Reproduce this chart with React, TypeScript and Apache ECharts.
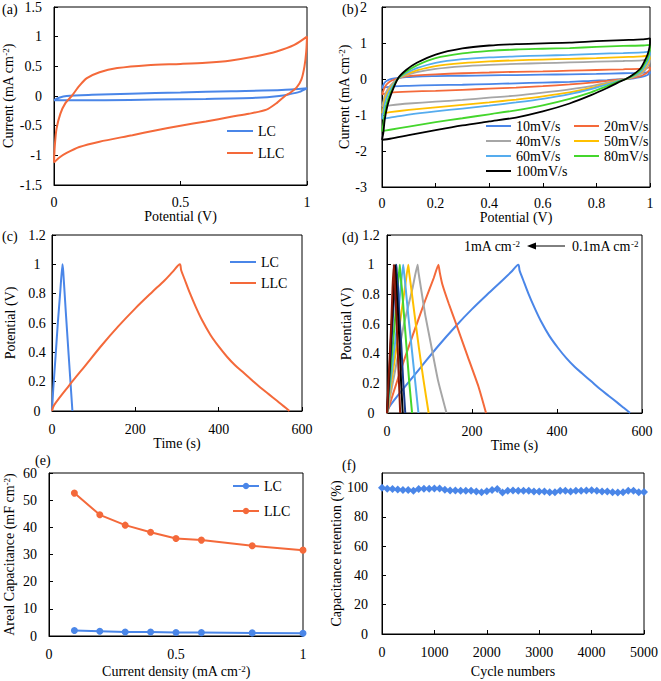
import React, { useEffect, useRef } from 'react';
import * as echarts from 'echarts';

const FONT = 'Liberation Serif';
const BLUE = '#4A86E8';
const ORANGE = '#F4693A';
const GRAY = '#A6A6A6';
const GOLD = '#FFC000';
const LBLUE = '#55ACEE';
const GREEN = '#44D62C';
const NAVY = '#1A3C8C';
const BLACK = '#000000';
const DRED = '#8B1A0A';

// ---------- (a) CV at 100 mV/s ----------
const aLlcUpX = [0, 0.003, 0.01, 0.025, 0.045, 0.07, 0.1, 0.13, 0.18, 0.25, 0.37, 0.5, 0.6, 0.7, 0.8, 0.88, 0.95, 1];
const aLlcUpY = [-1.12, -0.85, -0.55, -0.3, -0.12, 0.0, 0.17, 0.3, 0.4, 0.47, 0.52, 0.54, 0.56, 0.6, 0.67, 0.75, 0.86, 1.0];
const aLlcDownX = [1, 0.997, 0.99, 0.978, 0.96, 0.935, 0.913, 0.88, 0.84, 0.77, 0.7, 0.6, 0.5, 0.4, 0.31, 0.18, 0.1, 0.05, 0.02, 0];
const aLlcDownY = [1.0, 0.75, 0.5, 0.28, 0.15, 0.06, 0.0, -0.12, -0.23, -0.3, -0.35, -0.43, -0.5, -0.58, -0.66, -0.77, -0.86, -0.96, -1.04, -1.12];
const aLcUpX = [0, 0.02, 0.05, 0.15, 0.3, 0.5, 0.7, 0.9, 1];
const aLcUpY = [-0.07, -0.03, 0.0, 0.02, 0.04, 0.06, 0.08, 0.1, 0.13];
const aLcDownX = [1, 0.97, 0.93, 0.89, 0.8, 0.6, 0.4, 0.2, 0.05, 0];
const aLcDownY = [0.13, 0.07, 0.03, 0.0, -0.03, -0.05, -0.06, -0.07, -0.07, -0.07];

// ---------- (b) CV at different scan rates ----------
const bRates = ['10mV/s', '20mV/s', '40mV/s', '50mV/s', '60mV/s', '80mV/s', '100mV/s'];
const bColors = [BLUE, ORANGE, GRAY, GOLD, LBLUE, GREEN, BLACK];
const bUpX = [0, 0.005, 0.01, 0.02, 0.035, 0.06, 0.09, 0.13, 0.2, 0.3, 0.4, 0.5, 0.6, 0.7, 0.8, 0.9, 0.97, 1];
const bLowX = [0, 0.03, 0.1, 0.2, 0.3, 0.4, 0.5, 0.6, 0.7, 0.78, 0.84, 0.88, 0.91, 0.94, 0.965, 0.98, 0.992, 1];
const bUp10 = [-0.25, -0.17, -0.1, -0.04, 0.0, 0.03, 0.05, 0.07, 0.08, 0.09, 0.1, 0.11, 0.12, 0.13, 0.14, 0.16, 0.17, 0.2];
const bLow10 = [-0.25, -0.21, -0.19, -0.17, -0.16, -0.14, -0.12, -0.1, -0.08, -0.05, -0.03, -0.01, 0.0, 0.02, 0.05, 0.08, 0.12, 0.17];
const bUp20 = [-0.43, -0.33, -0.23, -0.13, -0.05, 0.02, 0.07, 0.1, 0.13, 0.16, 0.18, 0.2, 0.21, 0.23, 0.25, 0.27, 0.29, 0.32];
const bLow20 = [-0.43, -0.38, -0.35, -0.33, -0.3, -0.27, -0.24, -0.2, -0.15, -0.1, -0.05, -0.02, 0.0, 0.04, 0.08, 0.13, 0.2, 0.28];
const bUp40 = [-0.76, -0.62, -0.46, -0.3, -0.15, 0.01, 0.1, 0.19, 0.28, 0.35, 0.39, 0.42, 0.44, 0.46, 0.48, 0.5, 0.52, 0.55];
const bLow40 = [-0.76, -0.73, -0.68, -0.63, -0.58, -0.52, -0.46, -0.38, -0.29, -0.2, -0.1, -0.04, 0.0, 0.06, 0.13, 0.23, 0.35, 0.5];
const bUp50 = [-0.95, -0.78, -0.58, -0.38, -0.2, 0.01, 0.13, 0.24, 0.36, 0.44, 0.49, 0.52, 0.54, 0.56, 0.58, 0.61, 0.63, 0.66];
const bLow50 = [-0.95, -0.92, -0.86, -0.79, -0.72, -0.65, -0.57, -0.48, -0.37, -0.25, -0.13, -0.05, 0.0, 0.08, 0.17, 0.3, 0.44, 0.6];
const bUp60 = [-1.1, -0.92, -0.7, -0.46, -0.24, 0.01, 0.16, 0.3, 0.45, 0.55, 0.6, 0.63, 0.65, 0.67, 0.7, 0.72, 0.74, 0.76];
const bLow60 = [-1.1, -1.07, -0.99, -0.9, -0.82, -0.74, -0.65, -0.55, -0.42, -0.28, -0.15, -0.06, 0.0, 0.09, 0.2, 0.34, 0.5, 0.68];
const bUp80 = [-1.45, -1.25, -0.95, -0.62, -0.33, 0.01, 0.2, 0.38, 0.58, 0.71, 0.78, 0.82, 0.84, 0.86, 0.89, 0.92, 0.93, 0.95];
const bLow80 = [-1.45, -1.41, -1.32, -1.2, -1.09, -0.98, -0.87, -0.73, -0.55, -0.37, -0.2, -0.08, 0.0, 0.11, 0.25, 0.42, 0.6, 0.85];
const bUp100 = [-1.69, -1.5, -1.14, -0.75, -0.4, 0.02, 0.25, 0.45, 0.68, 0.85, 0.93, 0.97, 0.99, 1.01, 1.05, 1.08, 1.1, 1.13];
const bLow100 = [-1.69, -1.66, -1.56, -1.42, -1.29, -1.18, -1.07, -0.9, -0.68, -0.45, -0.25, -0.1, 0.0, 0.14, 0.3, 0.5, 0.7, 1.0];
const bUps = [bUp10, bUp20, bUp40, bUp50, bUp60, bUp80, bUp100];
const bLows = [bLow10, bLow20, bLow40, bLow50, bLow60, bLow80, bLow100];

// ---------- (c) GCD at 0.1 mA cm-2 ----------
const cLcT = [0, 3, 8, 14, 20, 25, 27, 33, 40, 49];
const cLcV = [0, 0.15, 0.35, 0.6, 0.82, 1.0, 0.95, 0.68, 0.38, 0];
const cLlcT = [0, 5, 40, 80, 120, 160, 200, 240, 270, 290, 307, 310, 318, 330, 345, 360, 380, 400, 420, 440, 460, 480, 500, 520, 540, 555, 570];
const cLlcV = [0, 0.04, 0.17, 0.31, 0.45, 0.58, 0.7, 0.81, 0.89, 0.95, 1.0, 0.96, 0.9, 0.81, 0.71, 0.62, 0.52, 0.44, 0.37, 0.31, 0.26, 0.21, 0.16, 0.115, 0.07, 0.035, 0];

// ---------- (d) GCD of LLC at different current densities ----------
const dNames = ['0.1mA', '0.2mA', '0.3mA', '0.4mA', '0.5mA', '0.6mA', '0.8mA', '0.9mA', '1mA'];
const dColors = [BLUE, ORANGE, GRAY, GOLD, LBLUE, GREEN, NAVY, BLACK, DRED];
const dT01 = [0, 5, 40, 80, 120, 160, 200, 240, 270, 292, 309, 312, 320, 332, 347, 362, 382, 402, 422, 442, 462, 482, 502, 522, 542, 557, 572];
const dV01 = [0, 0.04, 0.17, 0.31, 0.45, 0.58, 0.7, 0.81, 0.89, 0.95, 1.0, 0.96, 0.9, 0.81, 0.71, 0.62, 0.52, 0.44, 0.37, 0.31, 0.26, 0.21, 0.16, 0.115, 0.07, 0.035, 0];
const dT02 = [0, 30, 60, 90, 110, 121, 124, 130, 145, 164, 190, 215, 233];
const dV02 = [0, 0.27, 0.52, 0.76, 0.91, 1.0, 0.95, 0.87, 0.74, 0.59, 0.38, 0.18, 0];
const dT03 = [0, 20, 40, 60, 72, 74, 80, 90, 105, 120, 140];
const dT04 = [0, 15, 30, 42, 50, 52, 57, 65, 75, 86, 98];
const dT05 = [0, 12, 24, 32, 38, 40, 44, 50, 58, 66, 74];
const dT06 = [0, 9, 18, 25, 30, 31, 35, 40, 46, 52, 59];
const dT08 = [0, 7, 13, 18, 22, 23, 26, 29, 34, 38, 43];
const dT09 = [0, 6, 11, 16, 19, 20, 22, 26, 30, 33, 37];
const dT10 = [0, 5, 10, 13, 16, 17, 19, 22, 25, 28, 31];
const dVshort = [0, 0.3, 0.6, 0.84, 1.0, 0.95, 0.84, 0.66, 0.44, 0.22, 0];
const dTs = [dT01, dT02, dT03, dT04, dT05, dT06, dT08, dT09, dT10];
const dVs = [dV01, dV02, dVshort, dVshort, dVshort, dVshort, dVshort, dVshort, dVshort];

// ---------- (e) areal capacitance ----------
const eDensity = [0.1, 0.2, 0.3, 0.4, 0.5, 0.6, 0.8, 1.0];
const eLc = [2.0, 1.75, 1.5, 1.45, 1.3, 1.25, 1.15, 1.0];
const eLlc = [52.6, 44.6, 40.8, 38.2, 35.9, 35.3, 33.2, 31.6];

// ---------- (f) cycling ----------
const fCycles = [0, 100, 200, 300, 400, 500, 600, 700, 800, 900, 1000, 1100, 1200, 1300, 1400, 1500, 1600, 1700, 1800, 1900, 2000, 2100, 2200, 2300, 2400, 2500, 2600, 2700, 2800, 2900, 3000, 3100, 3200, 3300, 3400, 3500, 3600, 3700, 3800, 3900, 4000, 4100, 4200, 4300, 4400, 4500, 4600, 4700, 4800, 4900, 5000];
const fRetention = [100, 99.2, 99.1, 98.8, 98.3, 98.3, 97.9, 99.1, 99.3, 99.3, 99.4, 99.4, 98.5, 98.1, 98.0, 97.9, 97.8, 97.8, 97.4, 96.9, 97.6, 98.4, 99.1, 96.7, 97.8, 98.0, 97.8, 97.8, 97.8, 97.4, 97.3, 97.3, 96.9, 96.9, 97.8, 97.8, 97.3, 97.8, 97.8, 98.0, 98.2, 97.8, 97.3, 97.3, 96.9, 96.6, 96.9, 97.8, 97.8, 96.9, 97.1];

const zip = (xs: number[], ys: number[]) => xs.map((x, i) => [x, ys[i]]);

const RICH = {
  sup: { fontSize: 9, verticalAlign: 'top', fontFamily: FONT, color: '#000', padding: [0, 0, 4, 0] },
};
const txt = { fontFamily: FONT, fontSize: 14, color: '#000' };
const plain = (v: number) => String(v);

function xAx(i: number, min: number, max: number, interval: number, name: string, nameGap: number, margin: number) {
  return {
    type: 'value', gridIndex: i, min, max, interval, name, nameLocation: 'middle', nameGap,
    nameTextStyle: { ...txt, rich: RICH },
    axisLine: { onZero: false, lineStyle: { color: '#000', width: 1 } },
    axisTick: { inside: true, length: 4, lineStyle: { color: '#000' } },
    axisLabel: { ...txt, margin, formatter: plain },
    splitLine: { show: false },
  };
}
function yAx(i: number, min: number, max: number, interval: number, name: string, nameGap: number, margin: number, extra: any = {}) {
  return {
    type: 'value', gridIndex: i, min, max, interval, name, nameLocation: 'middle', nameGap,
    nameTextStyle: { ...txt, rich: RICH },
    axisLine: { onZero: false, lineStyle: { color: '#000', width: 1 } },
    axisTick: { inside: true, length: 4, lineStyle: { color: '#000' } },
    axisLabel: { ...txt, margin, formatter: plain, ...(extra.label || {}) },
    splitLine: { show: false },
  };
}

function lineSeries(name: string, xi: number, data: number[][], color: string, extra: any = {}) {
  return {
    type: 'line', name, xAxisIndex: xi, yAxisIndex: xi, data, symbol: 'none',
    smooth: 0.25, lineStyle: { color, width: 2 }, itemStyle: { color }, ...extra,
  };
}

export default function App() {
  const ref = useRef<HTMLDivElement>(null);
  useEffect(() => {
    if (!ref.current) return;
    const chart = echarts.init(ref.current, undefined, { renderer: 'svg' });
    const grid = [
      { left: 54, top: 7, width: 253, height: 178 },
      { left: 382, top: 7, width: 268, height: 180 },
      { left: 52, top: 235, width: 250, height: 176 },
      { left: 387, top: 235, width: 255, height: 178 },
      { left: 49, top: 473, width: 254, height: 163 },
      { left: 382, top: 473, width: 263, height: 161 },
    ].map((g) => ({ ...g, show: true, borderColor: '#000', borderWidth: 1, backgroundColor: 'transparent' }));

    const series: any[] = [];
    // (a)
    series.push(lineSeries('LC@a', 0, [...zip(aLcUpX, aLcUpY), ...zip(aLcDownX, aLcDownY)], BLUE));
    series.push(lineSeries('LLC@a', 0, [...zip(aLlcUpX, aLlcUpY), ...zip(aLlcDownX, aLlcDownY)], ORANGE));
    // (b)
    bRates.forEach((r, k) => {
      const loop = [...zip(bUpX, bUps[k]), ...zip(bLowX, bLows[k]).reverse()];
      series.push(lineSeries(r, 1, loop, bColors[k], { lineStyle: { color: bColors[k], width: 1.8 } }));
    });
    // (c)
    series.push(lineSeries('LC@c', 2, zip(cLcT, cLcV), BLUE, { smooth: 0.15 }));
    series.push(lineSeries('LLC@c', 2, zip(cLlcT, cLlcV), ORANGE, { smooth: 0.3 }));
    // (d)
    dNames.forEach((n, k) => {
      series.push(lineSeries(n, 3, zip(dTs[k], dVs[k]), dColors[k], { smooth: k === 0 ? 0.3 : 0.15 }));
    });
    // (e)
    series.push(lineSeries('LC@e', 4, zip(eDensity, eLc), BLUE, { symbol: 'circle', symbolSize: 7, smooth: false }));
    series.push(lineSeries('LLC@e', 4, zip(eDensity, eLlc), ORANGE, { symbol: 'circle', symbolSize: 7, smooth: false }));
    // (f)
    series.push(lineSeries('retention', 5, zip(fCycles, fRetention), BLUE, { symbol: 'diamond', symbolSize: 8, smooth: false }));

    const legBase = {
      orient: 'vertical', itemWidth: 26, itemHeight: 2, icon: 'rect', textStyle: { ...txt },
      formatter: (n: string) => n.split('@')[0], selectedMode: false, padding: 0,
    };

    const option: any = {
      animation: false,
      backgroundColor: '#fff',
      grid,
      xAxis: [
        xAx(0, 0, 1, 0.5, 'Potential (V)', 22, 10),
        xAx(1, 0, 1, 0.2, 'Potential (V)', 20, 9),
        xAx(2, 0, 600, 200, 'Time (s)', 25, 11),
        xAx(3, 0, 600, 200, 'Time (s)', 19, 11),
        xAx(4, 0, 1, 0.5, 'Current density (mA cm{sup|-2})', 28, 11),
        xAx(5, 0, 5000, 1000, 'Cycle numbers', 30, 11),
      ],
      yAxis: [
        yAx(0, -1.5, 1.5, 0.5, 'Current (mA cm{sup|-2})', 38, 12),
        yAx(1, -3, 2, 1, 'Current (mA cm{sup|-2})', 28, 15),
        yAx(2, 0, 1.2, 0.2, 'Potential (V)', 35, 15, { label: { align: 'center' } }),
        yAx(3, 0, 1.2, 0.2, 'Potential (V)', 34, 16, { label: { align: 'center' } }),
        yAx(4, 0, 60, 10, 'Areal Capacitance (mF cm{sup|-2})', 33, 12),
        yAx(5, 0, 110, 20, 'Capacitance retention (%)', 36, 14, { label: { showMaxLabel: false } }),
      ],
      legend: [
        { ...legBase, data: ['LC@a', 'LLC@a'], left: 227, top: 124, itemGap: 8 },
        { ...legBase, data: ['10mV/s', '40mV/s', '60mV/s', '100mV/s'], left: 486, top: 119, itemGap: 1, itemWidth: 25 },
        { ...legBase, data: ['20mV/s', '50mV/s', '80mV/s'], left: 574, top: 119, itemGap: 1, itemWidth: 25 },
        { ...legBase, data: ['LC@c', 'LLC@c'], left: 230, top: 255, itemGap: 7 },
        { ...legBase, icon: undefined, data: ['LC@e', 'LLC@e'], left: 232, top: 479, itemGap: 11, itemHeight: 8 },
      ],
      graphic: [
        { type: 'text', left: 2, top: 2, style: { text: '(a)', font: `14px "${FONT}"`, fill: '#000' } },
        { type: 'text', left: 342, top: 2, style: { text: '(b)', font: `14px "${FONT}"`, fill: '#000' } },
        { type: 'text', left: 2, top: 229, style: { text: '(c)', font: `14px "${FONT}"`, fill: '#000' } },
        { type: 'text', left: 342, top: 230, style: { text: '(d)', font: `14px "${FONT}"`, fill: '#000' } },
        { type: 'text', left: 35, top: 453, style: { text: '(e)', font: `14px "${FONT}"`, fill: '#000' } },
        { type: 'text', left: 342, top: 458, style: { text: '(f)', font: `14px "${FONT}"`, fill: '#000' } },
        {
          type: 'text', right: 661 - 520, top: 239,
          style: { text: '1mA cm{sup|-2}', font: `14px "${FONT}"`, fill: '#000', rich: RICH, align: 'right' },
        },
        {
          type: 'text', left: 572, top: 239,
          style: { text: '0.1mA cm{sup|-2}', font: `14px "${FONT}"`, fill: '#000', rich: RICH },
        },
        { type: 'line', shape: { x1: 534, y1: 246, x2: 565, y2: 246 }, style: { stroke: '#000', lineWidth: 1 } },
        { type: 'polygon', shape: { points: [[527, 246], [536, 242.5], [536, 249.5]] }, style: { fill: '#000' } },
      ],
      series,
    };
    chart.setOption(option);
    return () => chart.dispose();
  }, []);
  return (
    <div style={{ position: 'absolute', left: 0, top: 0, width: 661, height: 681, background: '#fff' }}>
      <div ref={ref} style={{ width: 661, height: 681 }} />
    </div>
  );
}
